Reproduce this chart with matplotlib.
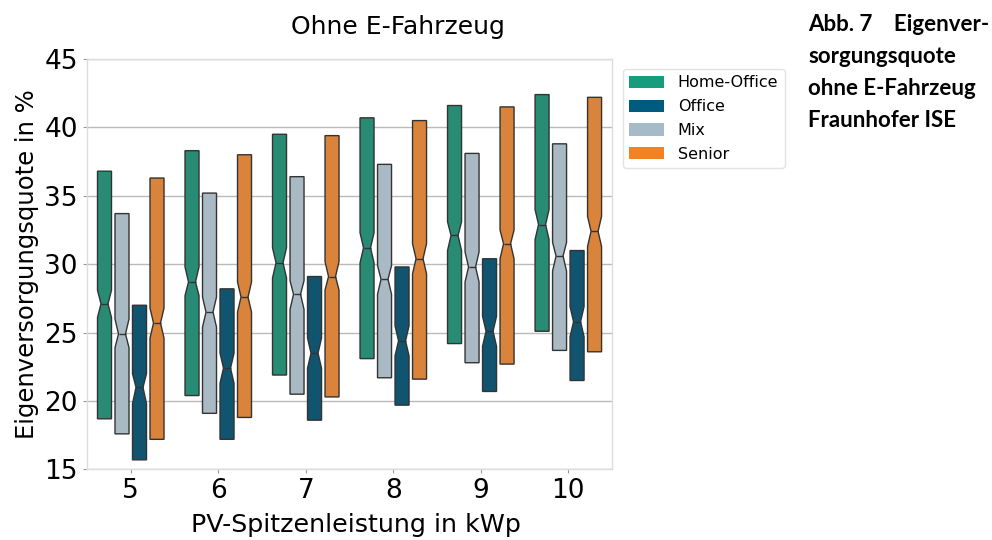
import matplotlib
matplotlib.use("Agg")
import matplotlib.pyplot as plt
import matplotlib.colors as mcolors
from matplotlib.patches import Patch
import colorsys

# ---------------- data ----------------
pv_kwp = ["5", "6", "7", "8", "9", "10"]
plot_order = ["Home-Office", "Mix", "Office", "Senior"]
legend_order = ["Home-Office", "Office", "Mix", "Senior"]

ho_min = [18.7, 20.4, 21.9, 23.1, 24.2, 25.1]
ho_med = [27.1, 28.7, 30.1, 31.2, 32.1, 32.9]
ho_max = [36.8, 38.3, 39.5, 40.7, 41.6, 42.4]
ho_lo = [26.1, 27.7, 29.0, 30.1, 31.0, 31.8]
ho_hi = [28.1, 29.8, 31.2, 32.3, 33.1, 34.0]

mix_min = [17.6, 19.1, 20.5, 21.7, 22.8, 23.7]
mix_med = [24.9, 26.5, 27.8, 28.9, 29.8, 30.6]
mix_max = [33.7, 35.2, 36.4, 37.3, 38.1, 38.8]
mix_lo = [23.9, 25.4, 26.7, 27.8, 28.7, 29.5]
mix_hi = [26.0, 27.6, 28.8, 29.9, 30.9, 31.6]

off_min = [15.7, 17.2, 18.6, 19.7, 20.7, 21.5]
off_med = [21.0, 22.4, 23.5, 24.4, 25.1, 25.8]
off_max = [27.0, 28.2, 29.1, 29.8, 30.4, 31.0]
off_lo = [19.8, 21.3, 22.4, 23.3, 24.0, 24.7]
off_hi = [22.0, 23.5, 24.6, 25.5, 26.2, 26.9]

sen_min = [17.2, 18.8, 20.3, 21.6, 22.7, 23.6]
sen_med = [25.7, 27.6, 29.1, 30.4, 31.5, 32.4]
sen_max = [36.3, 38.0, 39.4, 40.5, 41.5, 42.2]
sen_lo = [24.6, 26.5, 28.1, 29.3, 30.4, 31.3]
sen_hi = [26.8, 28.7, 30.2, 31.5, 32.5, 33.5]

colors = {"Home-Office": "#179C7D", "Office": "#005B7F",
          "Mix": "#A6BBC8", "Senior": "#F58220"}

data = {
    "Home-Office": (ho_min, ho_med, ho_max, ho_lo, ho_hi),
    "Mix": (mix_min, mix_med, mix_max, mix_lo, mix_hi),
    "Office": (off_min, off_med, off_max, off_lo, off_hi),
    "Senior": (sen_min, sen_med, sen_max, sen_lo, sen_hi),
}


def desat(c, prop=0.75):
    r, g, b = mcolors.to_rgb(c)
    h, l, s = colorsys.rgb_to_hls(r, g, b)
    return colorsys.hls_to_rgb(h, l, s * prop)


# ---------------- figure ----------------
fig = plt.figure(figsize=(9.92, 5.4), dpi=100)
ax = fig.add_axes([0.0877, 0.1307, 0.5293, 0.7600])

n = len(plot_order)
group_w = 0.8
step = group_w / n
edge = "#333333"
for k, name in enumerate(plot_order):
    mn, md, mx, lo, hi = data[name]
    stats = []
    for i in range(len(pv_kwp)):
        stats.append(dict(med=md[i], q1=mn[i], q3=mx[i], whislo=mn[i],
                          whishi=mx[i], cilo=lo[i], cihi=hi[i], fliers=[]))
    pos = [i - group_w / 2 + step * (k + 0.5) for i in range(len(pv_kwp))]
    ax.bxp(stats, positions=pos, widths=step * 0.8, patch_artist=True,
           shownotches=True, showcaps=False, showfliers=False,
           boxprops=dict(facecolor=desat(colors[name]), edgecolor=edge, linewidth=1.0),
           medianprops=dict(color=edge, linewidth=1.0),
           whiskerprops=dict(linewidth=0), manage_ticks=False)

ax.set_xlim(-0.5, len(pv_kwp) - 0.5)
ax.set_ylim(15, 45)
ax.set_xticks(range(len(pv_kwp)))
ax.set_xticklabels(pv_kwp)
ax.set_yticks([15, 20, 25, 30, 35, 40, 45])
ax.tick_params(axis="both", labelsize=19, color="#999999", length=3, width=0.8)
ax.yaxis.grid(True, color="#bbbbbb", linewidth=1.0)
ax.set_axisbelow(True)
for s in ax.spines.values():
    s.set_color("#dddddd")
    s.set_linewidth(1.0)

ax.set_ylabel("Eigenversorgungsquote in %", fontsize=17.5)
ax.set_xlabel("PV-Spitzenleistung in kWp", fontsize=18.3)
ax.xaxis.set_label_coords((356 - 87) / 525, -0.105)
fig.text(398 / 992, 1 - 27 / 540, "Ohne E-Fahrzeug", fontsize=18,
         ha="center", va="center")

handles = [Patch(facecolor=colors[nm], edgecolor="none", label=nm) for nm in legend_order]
leg = ax.legend(handles=handles, loc="upper left", bbox_to_anchor=(1.005, 0.995),
                fontsize=11.5, frameon=True, handlelength=2.2, handleheight=0.8,
                handletextpad=0.85, labelspacing=0.55, borderaxespad=0.5)
leg.get_frame().set_edgecolor("#dddddd")

fig.text(808 / 992, 1 - 14 / 540,
         "Abb. 7    Eigenver-\nsorgungsquote\nohne E-Fahrzeug\nFraunhofer ISE",
         fontsize=16, fontweight="bold", family="Lato", va="top", ha="left",
         linespacing=1.64)

fig.savefig("out.png", dpi=100)
